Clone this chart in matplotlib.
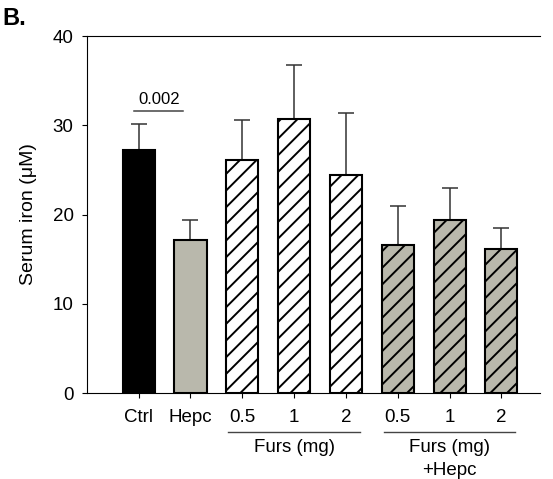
import numpy as np
import matplotlib
matplotlib.use('Agg')
import matplotlib.pyplot as plt
import matplotlib.transforms as mtrans

plt.rcParams['font.family'] = ['Liberation Sans', 'DejaVu Sans']
plt.rcParams['hatch.linewidth'] = 1.4

labels = ['Ctrl', 'Hepc', '0.5', '1', '2', '0.5', '1', '2']
means = [27.2, 17.2, 26.1, 30.7, 24.4, 16.6, 19.4, 16.1]
errs = [2.9, 2.2, 4.5, 6.0, 7.0, 4.4, 3.6, 2.4]
colors = ['black', '#b9b8ac', 'white', 'white', 'white', '#b9b8ac', '#b9b8ac', '#b9b8ac']
hatches = ['', '', '//', '//', '//', '//', '//', '//']

fig = plt.figure(figsize=(5.53, 4.79), dpi=100)
ax = fig.add_axes([0.157, 0.1795, 0.82, 0.7453])

x = np.arange(len(labels))
ax.errorbar(x, means, yerr=[np.zeros(len(errs)), errs], fmt='none',
            ecolor='#333333', elinewidth=1.1, capsize=5.8, capthick=1.1, zorder=1)
for i in range(len(x)):
    ax.bar(x[i], means[i], width=0.62, color=colors[i], edgecolor='black',
           linewidth=1.5, hatch=hatches[i], zorder=2)

ax.set_xlim(-1.0, 7.75)
ax.set_ylim(0, 40)
ax.set_yticks([0, 10, 20, 30, 40])
ax.set_xticks(x)
ax.set_xticklabels(labels)
ax.tick_params(axis='both', labelsize=13.5, direction='out', length=3.5, width=0.8)
ax.tick_params(axis='x', pad=8)
ax.tick_params(axis='y', pad=6)
ax.spines['right'].set_visible(False)
for s in ['top', 'left', 'bottom']:
    ax.spines[s].set_linewidth(0.8)
ax.set_ylabel('Serum iron (\u03bcM)', fontsize=14, labelpad=11)

# significance
ax.plot([-0.08, 0.86], [31.6, 31.6], color='#444444', lw=1.1)
ax.text(0.39, 32.0, '0.002', ha='center', va='bottom', fontsize=12)

# group labels
tr = mtrans.blended_transform_factory(ax.transData, ax.transAxes)
ax.plot([1.73, 4.27], [-0.109, -0.109], transform=tr, color='#444444', lw=1.0, clip_on=False)
ax.plot([4.73, 7.27], [-0.109, -0.109], transform=tr, color='#444444', lw=1.0, clip_on=False)
ax.text(3.0, -0.153, 'Furs (mg)', transform=tr, ha='center', va='center', fontsize=13.5)
ax.text(6.0, -0.153, 'Furs (mg)', transform=tr, ha='center', va='center', fontsize=13.5)
ax.text(6.0, -0.218, '+Hepc', transform=tr, ha='center', va='center', fontsize=13.5)

fig.text(0.005, 0.985, 'B.', fontsize=17, fontweight='bold', va='top', ha='left')

fig.savefig('out.png', dpi=100)
